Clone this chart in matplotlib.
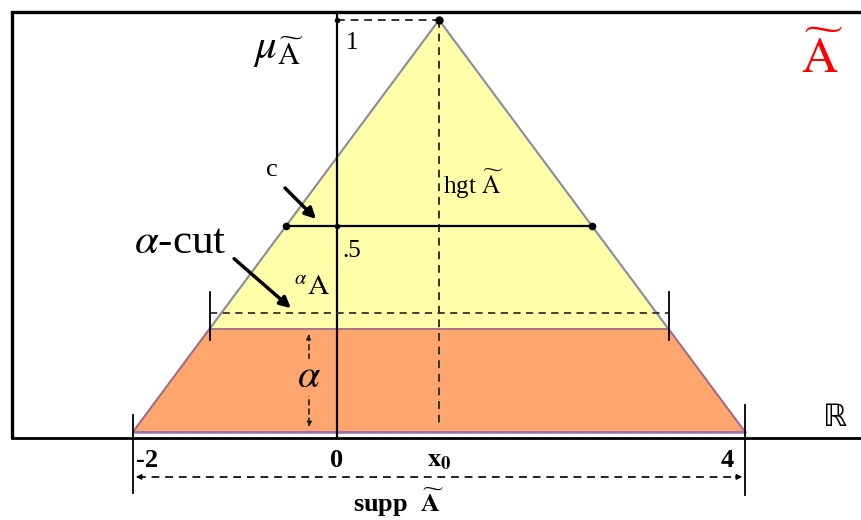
import matplotlib.pyplot as plt
import numpy as np

plt.rcParams['font.family'] = ['Liberation Serif', 'DejaVu Serif']
plt.rcParams['mathtext.fontset'] = 'stix'

# triangular fuzzy number A = (a, x0, b)
a, x0, b = -2.0, 1.0, 4.0
alpha = 0.25        # level of the shaded alpha-cut
cut_dash = 0.29     # dashed alpha-cut line
c_level = 0.5       # crossover level
tick_pos = [-2, 0, x0, 4]
tick_lab = ['-2', '0', r'$\mathbf{x_0}$', '4']

def left(h):
    return a + (x0 - a) * h

def right(h):
    return b - (b - x0) * h

fig = plt.figure(figsize=(8.62, 5.2), dpi=100)
ax = fig.add_axes([0, 0, 1, 1])
ax.set_xlim(-3.304, 5.147)
ax.set_ylim(-0.2136, 1.0485)
ax.axis('off')

axis_y = -0.015
top_y = 1.019
frame_x = -3.186

# frame (left, top, bottom)
ax.plot([frame_x, frame_x], [axis_y, top_y], color='k', lw=2.4, solid_capstyle='butt')
ax.plot([frame_x, 5.2], [top_y, top_y], color='k', lw=2.4)
ax.plot([frame_x, 5.2], [axis_y, axis_y], color='k', lw=2.0)

# membership function: yellow triangle and orange alpha-cut trapezoid
ax.fill([a, x0, b], [0, 1, 0], color='#ffffaa', ec='#8a8aa0', lw=1.5, zorder=1)
ax.fill([a, left(alpha), right(alpha), b], [0, alpha, alpha, 0],
        color='#ffa56e', ec='#a06a8a', lw=1.3, zorder=2)
ax.plot([a, b], [0, 0], color='#9a70b0', lw=1.8, zorder=3)

# vertical axis
ax.plot([0, 0], [axis_y, top_y], color='k', lw=1.6, zorder=4)

# height lines
ax.plot([0, x0], [1, 1], color='#333333', lw=1.4, ls=(0, (4, 3)), zorder=4)
ax.plot([x0, x0], [1, 0.02], color='#333333', lw=1.4, ls=(0, (4, 3)), zorder=4)
ax.plot([x0], [1], 'o', color='k', ms=5, zorder=5)
ax.plot([0], [1], 'o', color='k', ms=3, zorder=5)

# crossover line at 0.5
ax.plot([left(c_level), right(c_level)], [c_level, c_level], color='k', lw=1.6, zorder=4)
ax.plot([left(c_level), right(c_level)], [c_level, c_level], 'o', color='k', ms=4.5, zorder=5)
ax.plot([0], [c_level], 'o', color='k', ms=3, zorder=5)

# alpha-cut dashed line with end ticks
ax.plot([left(alpha), right(alpha)], [cut_dash, cut_dash], color='#333333', lw=1.3,
        ls=(0, (4, 3)), zorder=4)
for xx in [left(alpha), right(alpha)]:
    ax.plot([xx, xx], [0.223, 0.34], color='k', lw=1.3, zorder=5)

# support arrow and ticks
ax.plot([a, a], [-0.148, 0.041], color='k', lw=1.3, zorder=5)
ax.plot([b, b], [-0.153, 0.066], color='k', lw=1.3, zorder=5)
ax.plot([a + 0.05, b - 0.05], [-0.109, -0.109], color='#222222', lw=1.4, ls=(0, (4, 3)))
ax.annotate('', xy=(a, -0.109), xytext=(a + 0.12, -0.109),
            arrowprops=dict(arrowstyle='-|>', color='k', lw=1, mutation_scale=8))
ax.annotate('', xy=(b, -0.109), xytext=(b - 0.12, -0.109),
            arrowprops=dict(arrowstyle='-|>', color='k', lw=1, mutation_scale=8))

# alpha height arrow
ax.annotate('', xy=(-0.275, 0.005), xytext=(-0.275, alpha - 0.005),
            arrowprops=dict(arrowstyle='<|-|>', color='#222222', lw=1.2, ls=(0, (3, 2.5)),
                            mutation_scale=7), zorder=5)
ax.text(-0.275, 0.133, r'$\alpha$', fontsize=29, ha='center', va='center', zorder=6,
        bbox=dict(fc='#ffa56e', ec='none', pad=0))

# pointer arrows
ax.annotate('', xy=(-0.186, 0.512), xytext=(-0.529, 0.597),
            arrowprops=dict(arrowstyle='-|>', color='k', lw=2.5, mutation_scale=16))
ax.annotate('', xy=(-0.431, 0.296), xytext=(-1.029, 0.425),
            arrowprops=dict(arrowstyle='-|>', color='k', lw=2.5, mutation_scale=16))

# labels
ax.text(-0.82, 0.925, r'$\mu_{\widetilde{\mathrm{A}}}$', fontsize=31, ha='left', va='center')
ax.text(0.09, 0.945, '1', fontsize=18, ha='left', va='center')
ax.text(0.05, 0.44, '.5', fontsize=18, ha='left', va='center')
ax.text(-0.637, 0.635, 'c', fontsize=19, ha='center', va='center')
ax.text(-1.54, 0.46, r'$\alpha$-cut', fontsize=31, ha='center', va='center')
ax.text(-0.25, 0.35, r'$^{\alpha}\mathrm{A}$', fontsize=21, ha='center', va='center')
ax.text(1.04, 0.6, r'hgt $\widetilde{\mathrm{A}}$', fontsize=18, ha='left', va='center')
ax.text(4.755, 0.905, r'$\widetilde{\mathrm{A}}$', fontsize=36, color='red', ha='center', va='center')
ax.text(4.88, 0.034, 'ℝ', fontsize=22, family='DejaVu Sans', ha='center', va='center')

for xp, lab in zip(tick_pos, tick_lab):
    ha = 'left' if xp == a else 'center'
    xx = xp + 0.03 if xp == a else (xp - 0.17 if xp == b else xp)
    ax.text(xx, -0.068, lab, fontsize=19, fontweight='bold', ha=ha, va='center')

ax.text(0.6, -0.172, r'supp  $\mathbf{\widetilde{A}}$', fontsize=19, fontweight='bold',
        ha='center', va='center')

fig.savefig('out.png', dpi=100)
